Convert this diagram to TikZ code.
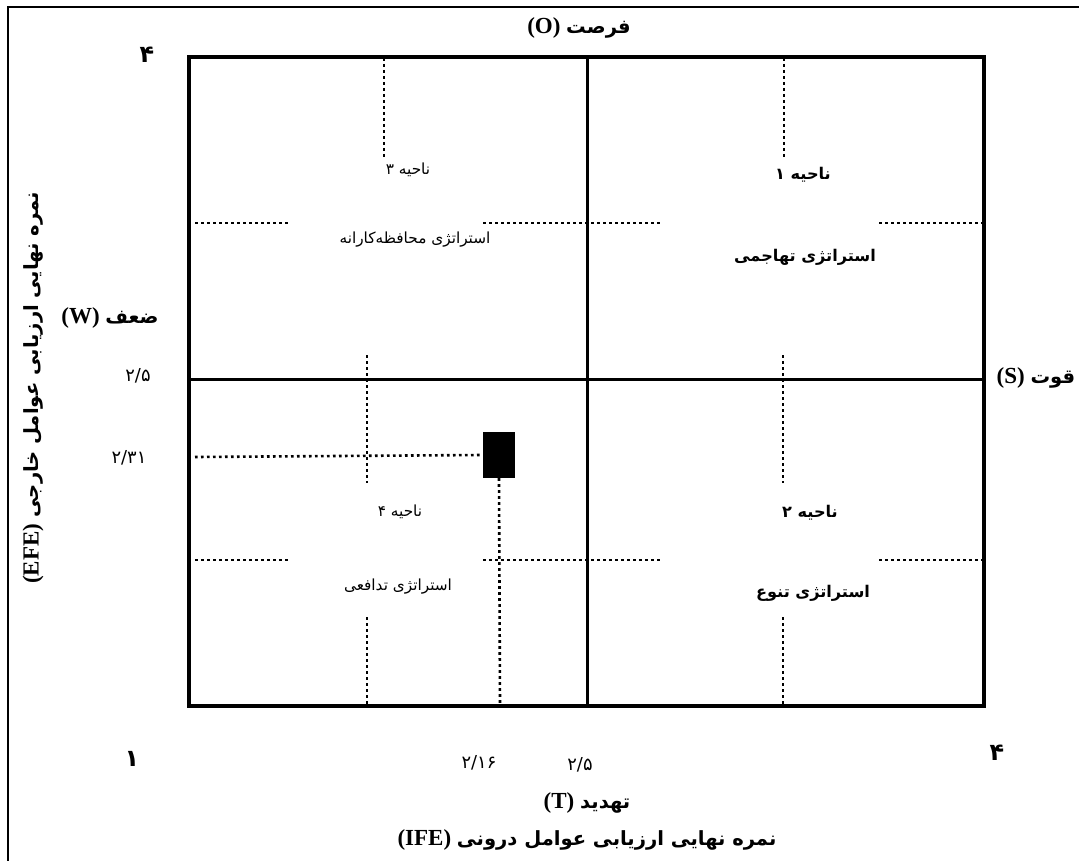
\documentclass[tikz,border=0pt]{standalone}
\usepackage{fontspec}
\setmainfont{Liberation Serif}
\newfontfamily\fa[Script=Arabic,Scale=0.85]{DejaVu Sans}
\TeXXeTstate=1
\newcommand{\rtl}[1]{{\fa\beginR #1\endR}}

\begin{document}
\begin{tikzpicture}[x=1pt, y=-1pt,
	axis/.style={line width=3pt},
	guide/.style={line width=2.6pt, dash pattern=on 2.6pt off 3.4pt},
	lbl/.style={inner sep=0pt, font=\bfseries\fontsize{23}{27}\selectfont},
	zone/.style={inner sep=0pt, font=\fontsize{18}{21}\selectfont},
	zonebf/.style={inner sep=0pt, font=\bfseries\fontsize{19}{22}\selectfont},
	corner/.style={inner sep=0pt, font=\bfseries\fontsize{28}{32}\selectfont},
	tick/.style={inner sep=0pt, font=\fontsize{21}{24}\selectfont}]
	\useasboundingbox (0,0) rectangle (1079,861);
	
	%frame
	\draw[line width=1.5pt] (8,7) rectangle (1100,880);
	
	%matrix
	\draw[line width=3.5pt] (189,57) rectangle (984,706);
	\draw[axis] (587,57) -- (587,706);
	\draw[axis] (189,379) -- (984,379);
	
	%dotted guides
	\foreach \x in {384, 784}{
		\draw[guide] (\x,58)--(\x,157);
	}
	\foreach \x in {367, 783}{
		\draw[guide] (\x,355)--(\x,483);
		\draw[guide] (\x,617)--(\x,706);
	}
	\foreach \y in {223, 560}{
		\draw[guide] (195,\y)--(290,\y);
		\draw[guide] (483,\y)--(660,\y);
		\draw[guide] (879,\y)--(984,\y);
	}
	
	%company position
	\node[fill, minimum width=32pt, minimum height=46pt, inner sep=0pt] (pos) at (499,455){};
	\draw[guide] (195,457)--(pos.west);
	\draw[guide] (pos.south)--(500,706);
	
	%axis labels
	\node[lbl] (opp) at (579,28){(O) \rtl{فرصت}};
	\node[lbl] (thr) at (587,803){(T) \rtl{تهدید}};
	\node[lbl] (wea) at (110,318){(W) \rtl{ضعف}};
	\node[lbl] (str) at (1036,378){(S) \rtl{قوت}};
	\node[lbl, rotate=90] (efe) at (33,388){(EFE) \rtl{نمره نهایی ارزیابی عوامل خارجی}};
	\node[lbl] (ife) at (587,840){(IFE) \rtl{نمره نهایی ارزیابی عوامل درونی}};
	
	%scale values
	\node[corner] (ytop) at (147,55){\fa ۴};
	\node[corner] (xlow) at (132,759){\fa ۱};
	\node[corner] (xtop) at (997,753){\fa ۴};
	\node[tick] (ymid) at (138,376){\fa ۲/۵};
	\node[tick] (yval) at (129,458){\fa ۲/۳۱};
	\node[tick] (xval) at (479,763){\fa ۲/۱۶};
	\node[tick] (xmid) at (580,765){\fa ۲/۵};
	
	%zones
	\node[zone] (z3) at (408,170){\rtl{ناحیه ۳}};
	\node[zone] (s3) at (415,240){\rtl{استراتژی  محافظه‌کارانه}};
	\node[zonebf] (z1) at (803,175){\rtl{ناحیه ۱}};
	\node[zonebf] (s1) at (805,257){\rtl{استراتژی تهاجمی}};
	\node[zone] (z4) at (400,512){\rtl{ناحیه ۴}};
	\node[zone] (s4) at (398,587){\rtl{استراتژی  تدافعی}};
	\node[zonebf] (z2) at (810,513){\rtl{ناحیه ۲}};
	\node[zonebf] (s2) at (813,593){\rtl{استراتژی تنوع}};
\end{tikzpicture}
\end{document}
